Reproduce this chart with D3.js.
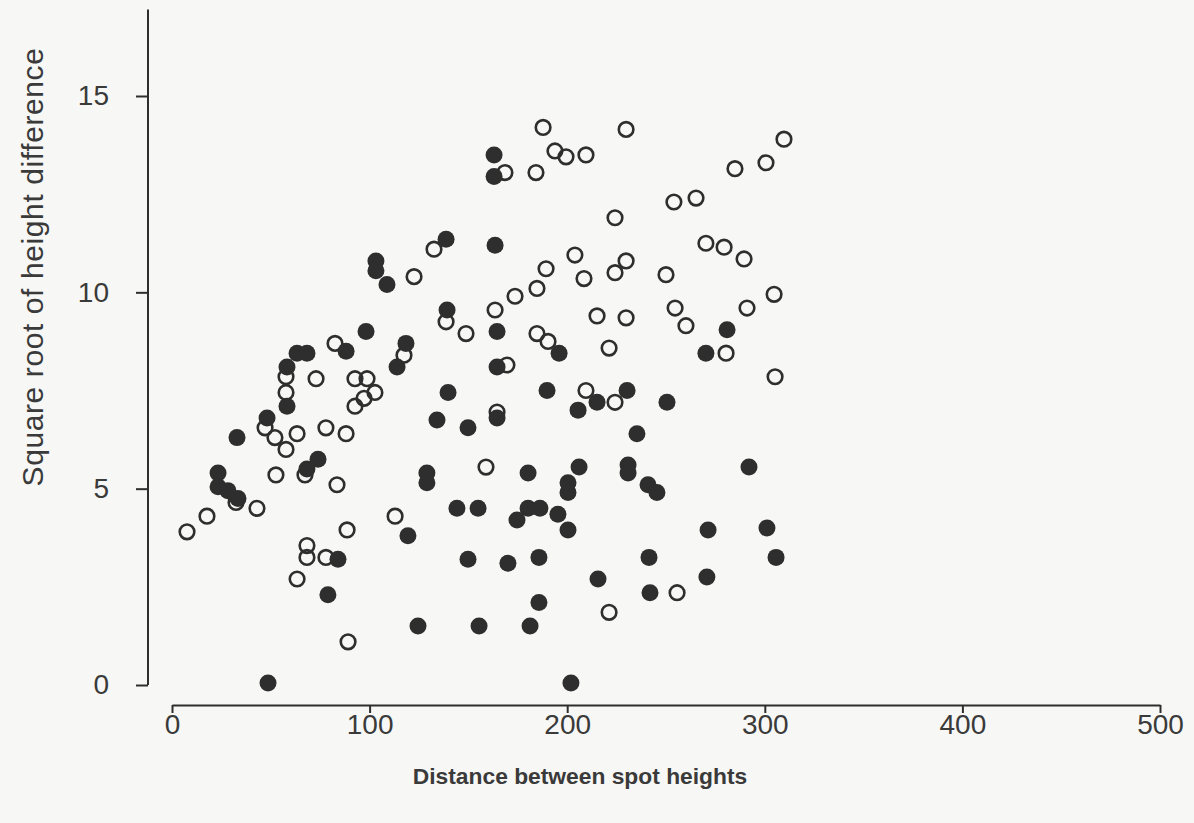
<!DOCTYPE html>
<html>
<head>
<meta charset="utf-8">
<script src="https://cdn.jsdelivr.net/npm/d3@7"></script>
<style>
  body { margin: 0; background: #f7f7f5; }
  svg { display: block; }
  text { font-family: "Liberation Sans", Arial, sans-serif; fill: #3a3a3a; }
</style>
</head>
<body>
<svg id="chart" width="1194" height="823"></svg>
<script>
// distance (x) and sqrt height difference (y)
const filledX = [98.2, 88.1, 63.3, 68.3, 58.2, 58.2, 48.1, 32.9, 73.9, 68.3, 23.3, 23.3, 28.3, 33.4, 84.0, 78.9, 48.6,
  103.2, 103.2, 108.8, 113.9, 118.4, 138.7, 163.0, 163.0, 163.5, 139.2, 164.5, 195.9, 164.5, 139.7, 189.8, 215.1,
  205.5, 134.1, 164.5, 149.8, 180.2, 206.0, 129.0, 129.0, 200.4, 200.4, 144.2, 154.9, 180.2, 186.2, 174.6, 195.3,
  200.4, 119.4, 149.8, 170.0, 185.7, 215.6, 185.7, 124.5, 155.4, 181.2, 201.9, 280.9, 270.2, 230.3, 250.5, 235.3,
  230.8, 230.8, 240.9, 245.4, 292.0, 271.3, 301.1, 241.4, 305.7, 270.7, 241.9]
const filledY = [9.0, 8.5, 8.45, 8.45, 8.1, 7.1, 6.8, 6.3, 5.75, 5.5, 5.4, 5.05, 4.95, 4.75, 3.2, 2.3, 0.05,
  10.8, 10.55, 10.2, 8.1, 8.7, 11.35, 13.5, 12.95, 11.2, 9.55, 9.0, 8.45, 8.1, 7.45, 7.5, 7.2,
  7.0, 6.75, 6.8, 6.55, 5.4, 5.55, 5.4, 5.15, 5.15, 4.9, 4.5, 4.5, 4.5, 4.5, 4.2, 4.35,
  3.95, 3.8, 3.2, 3.1, 3.25, 2.7, 2.1, 1.5, 1.5, 1.5, 0.05, 9.05, 8.45, 7.5, 7.2, 6.4,
  5.6, 5.4, 5.1, 4.9, 5.55, 3.95, 4.0, 3.25, 3.25, 2.75, 2.35]

const openX = [82.5, 57.7, 57.7, 72.9, 92.6, 98.7, 102.7, 97.2, 92.6, 47.1, 52.1, 63.3, 57.7, 77.9, 88.1, 67.3,
  52.6, 83.5, 32.4, 43.0, 17.7, 7.6, 88.6, 68.3, 68.3, 77.9, 63.3, 89.1, 112.9, 187.8, 193.8, 199.4, 209.5,
  168.5, 184.2, 224.2, 132.6, 122.5, 203.9, 189.3, 208.5, 224.2, 184.7, 173.6, 163.5, 215.1, 138.7, 148.8,
  184.7, 190.3, 117.4, 169.5, 209.5, 224.2, 164.5, 158.9, 221.2, 229.8, 309.7, 300.6, 284.9, 254.0, 265.2,
  270.2, 279.4, 289.5, 229.8, 250.0, 304.7, 254.6, 291.0, 229.8, 260.1, 221.2, 280.4, 305.2, 255.6]
const openY = [8.7, 7.85, 7.45, 7.8, 7.8, 7.8, 7.45, 7.3, 7.1, 6.55, 6.3, 6.4, 6.0, 6.55, 6.4, 5.35,
  5.35, 5.1, 4.65, 4.5, 4.3, 3.9, 3.95, 3.55, 3.25, 3.25, 2.7, 1.1, 4.3, 14.2, 13.6, 13.45, 13.5,
  13.05, 13.05, 11.9, 11.1, 10.4, 10.95, 10.6, 10.35, 10.5, 10.1, 9.9, 9.55, 9.4, 9.25, 8.95,
  8.95, 8.75, 8.4, 8.15, 7.5, 7.2, 6.95, 5.55, 1.85, 14.15, 13.9, 13.3, 13.15, 12.3, 12.4,
  11.25, 11.15, 10.85, 10.8, 10.45, 9.95, 9.6, 9.6, 9.35, 9.15, 8.58, 8.45, 7.85, 2.35]

const xTicks = [0, 100, 200, 300, 400, 500]
const yTicks = [0, 5, 10, 15]

const svg = d3.select('#chart')

const x = d3.scaleLinear().domain([0, 500]).range([172, 1160])
const y = d3.scaleLinear().domain([0, 15]).range([685, 96])

const ink = '#2e2e2e'

// x axis, offset below the plot
const gx = svg.append('g')
  .attr('transform', 'translate(0,705)')
  .call(d3.axisBottom(x).tickValues(xTicks).tickSize(8).tickSizeOuter(0).tickPadding(1))
gx.select('.domain').attr('stroke', ink).attr('stroke-width', 2)
gx.selectAll('.tick line').attr('stroke', ink).attr('stroke-width', 2)
gx.selectAll('.tick text').attr('font-size', 28).style('fill', '#3a3a3a')

// y axis, line runs past the last tick
const gy = svg.append('g')
  .attr('transform', 'translate(148,0)')
  .call(d3.axisLeft(y).tickValues(yTicks).tickSize(12).tickSizeOuter(0).tickPadding(27))
gy.select('.domain').remove()
gy.append('line')
  .attr('x1', 0).attr('x2', 0)
  .attr('y1', y(0)).attr('y2', y(17.2))
  .attr('stroke', ink).attr('stroke-width', 2)
gy.selectAll('.tick line').attr('stroke', ink).attr('stroke-width', 2)
gy.selectAll('.tick text').attr('font-size', 28).style('fill', '#3a3a3a')

svg.append('text')
  .attr('transform', 'translate(43,267) rotate(-90)')
  .attr('text-anchor', 'middle')
  .attr('font-size', 30)
  .attr('letter-spacing', 0.6)
  .text('Square root of height difference')

svg.append('text')
  .attr('x', 580).attr('y', 784)
  .attr('text-anchor', 'middle')
  .attr('font-size', 22.8)
  .attr('font-weight', 'bold')
  .text('Distance between spot heights')

// open circles under, filled dots on top
svg.append('g')
  .selectAll('circle')
  .data(d3.zip(openX, openY))
  .join('circle')
    .attr('cx', (d) => x(d[0]))
    .attr('cy', (d) => y(d[1]))
    .attr('r', 7.3)
    .attr('fill', 'none')
    .attr('stroke', ink)
    .attr('stroke-width', 2.6)

svg.append('g')
  .selectAll('circle')
  .data(d3.zip(filledX, filledY))
  .join('circle')
    .attr('cx', (d) => x(d[0]))
    .attr('cy', (d) => y(d[1]))
    .attr('r', 8.5)
    .attr('fill', ink)
</script>
</body>
</html>
